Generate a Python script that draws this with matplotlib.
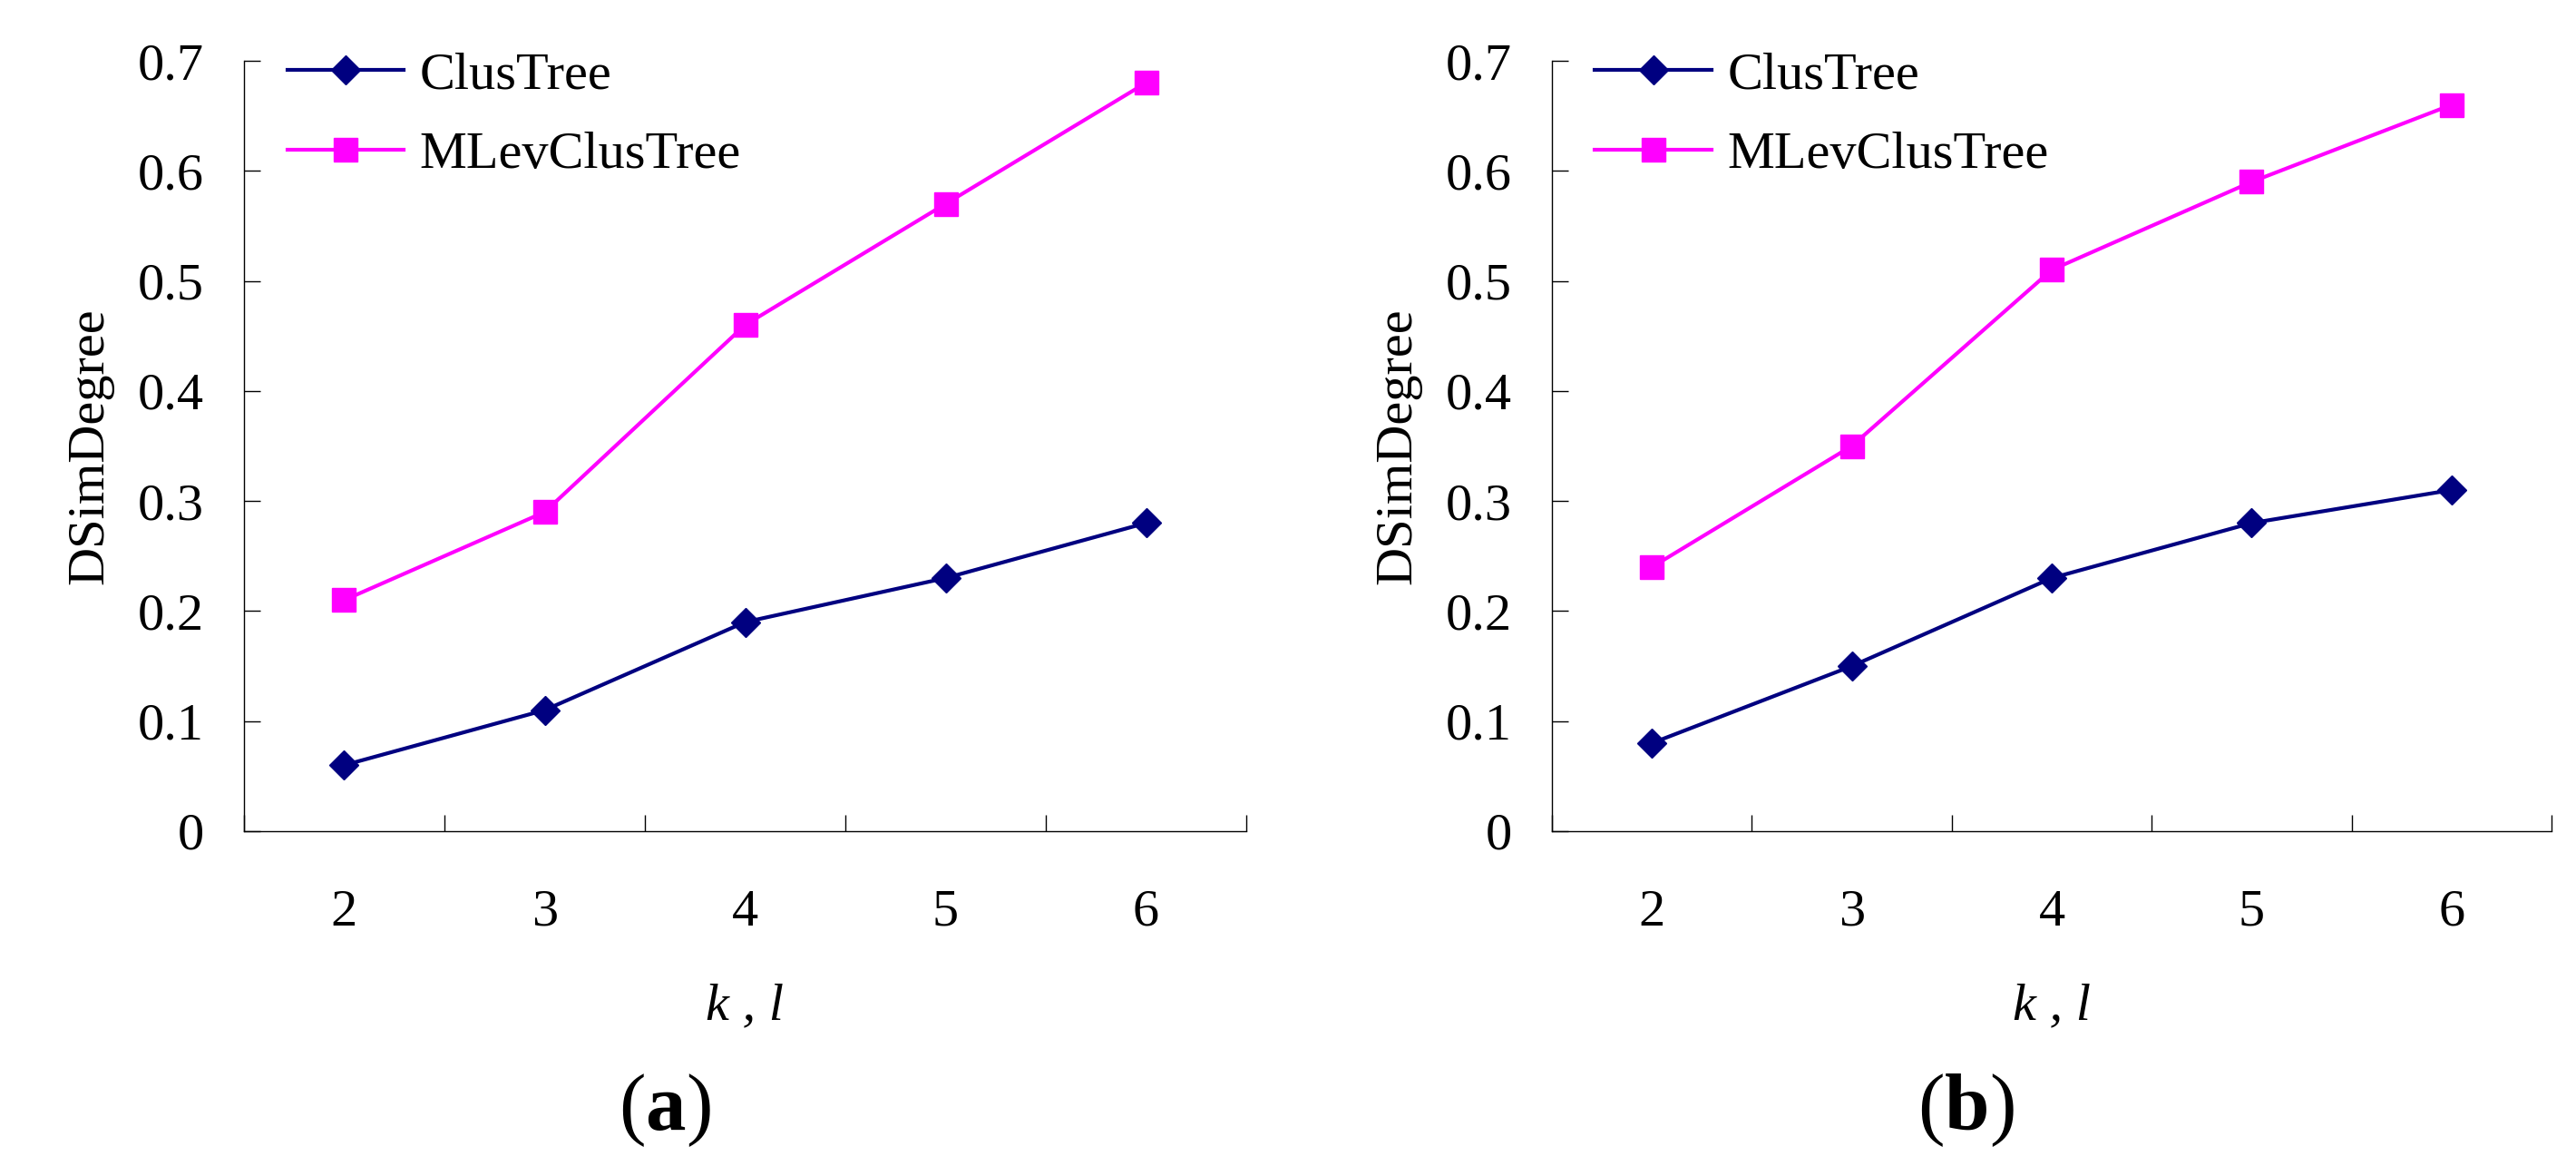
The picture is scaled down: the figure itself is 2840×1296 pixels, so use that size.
import matplotlib
matplotlib.use("Agg")
import matplotlib.pyplot as plt
from matplotlib.ticker import FixedLocator, NullFormatter

plt.rcParams['font.family'] = ['Liberation Serif', 'DejaVu Serif']
plt.rcParams['mathtext.fontset'] = 'custom'
plt.rcParams['mathtext.rm'] = 'Liberation Serif'
plt.rcParams['mathtext.bf'] = 'Liberation Serif:bold'
plt.rcParams['mathtext.it'] = 'Liberation Serif:italic'

# ---- data ----
categories = [2, 3, 4, 5, 6]
clustree_a = [0.06, 0.11, 0.19, 0.23, 0.28]
mlev_a = [0.21, 0.29, 0.46, 0.57, 0.68]
clustree_b = [0.08, 0.15, 0.23, 0.28, 0.31]
mlev_b = [0.24, 0.35, 0.51, 0.59, 0.66]
ytick_vals = [0, 0.1, 0.2, 0.3, 0.4, 0.5, 0.6, 0.7]
ytick_labels = ['0', '0.1', '0.2', '0.3', '0.4', '0.5', '0.6', '0.7']
series_names = ['ClusTree', 'MLevClusTree']
panel_labels = ['a', 'b']

W, H = 2840, 1296
fig = plt.figure(figsize=(W / 100, H / 100), dpi=100)

FS = 42
NAVY = '#000080'
MAG = '#FF00FF'

axes_px = [(269, 1374), (1711, 2813)]
bottom_px, top_px = 916, 67

panels = [(clustree_a, mlev_a), (clustree_b, mlev_b)]
label_x = [0.258, 0.763]

for i, ((x0, x1), (c_vals, m_vals)) in enumerate(zip(axes_px, panels)):
    ax = fig.add_axes([x0 / W, (H - bottom_px) / H, (x1 - x0) / W, (bottom_px - top_px) / H])
    ax.plot(categories, c_vals, color=NAVY, lw=3.0, marker='D', ms=16,
            mfc=NAVY, mec=NAVY, mew=1, label=series_names[0])
    ax.plot(categories, m_vals, color=MAG, lw=3.0, marker='s', ms=19,
            mfc=MAG, mec=MAG, mew=1, label=series_names[1])
    ax.set_xlim(categories[0] - 0.5, categories[-1] + 0.5)
    ax.set_ylim(0, 0.7)
    for s in ['top', 'right']:
        ax.spines[s].set_visible(False)
    for s in ['left', 'bottom']:
        ax.spines[s].set_linewidth(1.0)
    ax.set_yticks(ytick_vals)
    ax.set_yticklabels(ytick_labels)
    ax.set_xticks(categories)
    ax.set_xticklabels([str(c) for c in categories])
    ax.xaxis.set_minor_locator(FixedLocator([c - 0.5 for c in categories] + [categories[-1] + 0.5]))
    ax.xaxis.set_minor_formatter(NullFormatter())
    ax.tick_params(axis='x', which='major', length=0, pad=46, labelsize=FS)
    ax.tick_params(axis='x', which='minor', direction='in', length=13, width=1.0)
    ax.tick_params(axis='y', which='major', direction='in', length=13, width=1.0, pad=32, labelsize=FS)
    ax.set_ylabel('DSimDegree', fontsize=FS)
    ax.yaxis.set_label_coords(-0.130, 0.5)
    ax.set_xlabel('k , l', fontsize=FS, style='italic', va='top')
    ax.xaxis.set_label_coords(0.5, -0.197)
    leg = ax.legend(loc='upper left', bbox_to_anchor=(0.043, 1.012), frameon=False,
                    fontsize=FS, handlelength=2.2, handletextpad=0.3, labelspacing=0.6,
                    borderpad=0, borderaxespad=0)
    fig.text(label_x[i], 0.0556, r'($\mathbf{' + panel_labels[i] + r'}$)', fontsize=64,
             ha='center', va='center')

fig.savefig('out.png', dpi=100)
